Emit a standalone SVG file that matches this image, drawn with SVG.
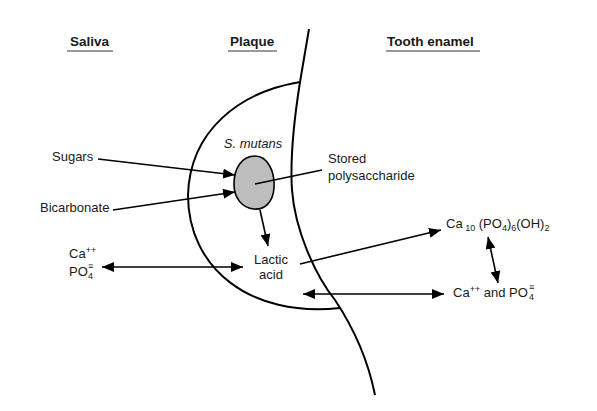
<svg xmlns="http://www.w3.org/2000/svg" width="597" height="411" viewBox="0 0 597 411">
<defs>
<style>
text{font-family:"Liberation Sans",Arial,sans-serif;font-size:13px;fill:#1a1a1a}
.hd{font-weight:bold;font-size:13.5px}
.it{font-style:italic}
.sm{font-size:9px}
.ul{stroke:#333;stroke-width:1.2}
.curve{fill:none;stroke:#000;stroke-width:2}
.conn{fill:none;stroke:#000;stroke-width:1.6}
</style>
<marker id="ah" viewBox="0 0 12 10" refX="12" refY="5" markerWidth="12" markerHeight="10" markerUnits="userSpaceOnUse" orient="auto-start-reverse">
<path d="M0,0 L12,5 L0,10 Z" fill="#000"/>
</marker>
</defs>
<rect width="597" height="411" fill="#fff"/>

<g id="headers">
<text class="hd" x="70" y="46">Saliva</text>
<line class="ul" x1="67" y1="51" x2="113" y2="51"/>
<text class="hd" x="230" y="46">Plaque</text>
<line class="ul" x1="228" y1="51" x2="277" y2="51"/>
<text class="hd" x="387" y="46">Tooth enamel</text>
<line class="ul" x1="386" y1="51" x2="480" y2="51"/>
</g>

<g id="tooth-surface">
<path class="curve" d="M309,29 L300,82 C294,120 290,160 292,190 C295,230 315,275 335,300 C355,330 368,360 375,395"/>
</g>
<g id="plaque">
<path class="curve" d="M300,82 C240,92 190,130 188,195 C188,268 250,318 340,308"/>
</g>

<g id="s-mutans">
<path d="M255,156 C268,156 275,172 274,188 C273,202 265,210 254,209 C242,208 234,198 234,184 C234,168 242,156 255,156 Z" fill="#bdbdbd" stroke="#000" stroke-width="1.6"/>
<text class="it" x="253" y="148" text-anchor="middle">S. mutans</text>
</g>

<g id="stored">
<text x="328" y="163">Stored</text>
<text x="328" y="180">polysaccharide</text>
</g>

<g id="sugars"><text x="52" y="161">Sugars</text></g>
<g id="bicarbonate"><text x="40" y="212">Bicarbonate</text></g>

<g id="lactic-acid">
<text x="271" y="264" text-anchor="middle">Lactic</text>
<text x="271" y="279" text-anchor="middle">acid</text>
</g>

<g id="saliva-ions">
<text x="69" y="258">Ca<tspan class="sm" dy="-5">++</tspan></text>
<text x="69" y="276">PO</text>
<text class="sm" x="88" y="279">4</text>
<text class="sm" x="88" y="269">≡</text>
</g>

<g id="hydroxyapatite">
<text x="446" y="228">Ca<tspan class="sm" dy="3"> 10</tspan><tspan dy="-3"> (PO</tspan><tspan class="sm" dy="3">4</tspan><tspan dy="-3">)</tspan><tspan class="sm" dy="3">6</tspan><tspan dy="-3">(OH)</tspan><tspan class="sm" dy="3">2</tspan></text>
</g>

<g id="enamel-ions">
<text x="453" y="297">Ca<tspan class="sm" dy="-5">++</tspan><tspan dy="5"> and PO</tspan></text>
<text class="sm" x="529" y="300">4</text>
<text class="sm" x="529" y="290">≡</text>
</g>

<g id="connectors">
<line class="conn" x1="98" y1="159" x2="235" y2="175" marker-end="url(#ah)"/>
<line class="conn" x1="113" y1="210" x2="235" y2="192" marker-end="url(#ah)"/>
<line class="conn" x1="255" y1="184" x2="322" y2="170"/>
<line class="conn" x1="260" y1="210" x2="268" y2="246" marker-end="url(#ah)"/>
<line class="conn" x1="102" y1="267" x2="243" y2="267" marker-start="url(#ah)" marker-end="url(#ah)"/>
<line class="conn" x1="300" y1="264" x2="441" y2="230" marker-end="url(#ah)"/>
<line class="conn" x1="303" y1="294" x2="444" y2="294" marker-start="url(#ah)" marker-end="url(#ah)"/>
<line class="conn" x1="488" y1="237" x2="498" y2="283" marker-start="url(#ah)" marker-end="url(#ah)"/>
</g>
</svg>
